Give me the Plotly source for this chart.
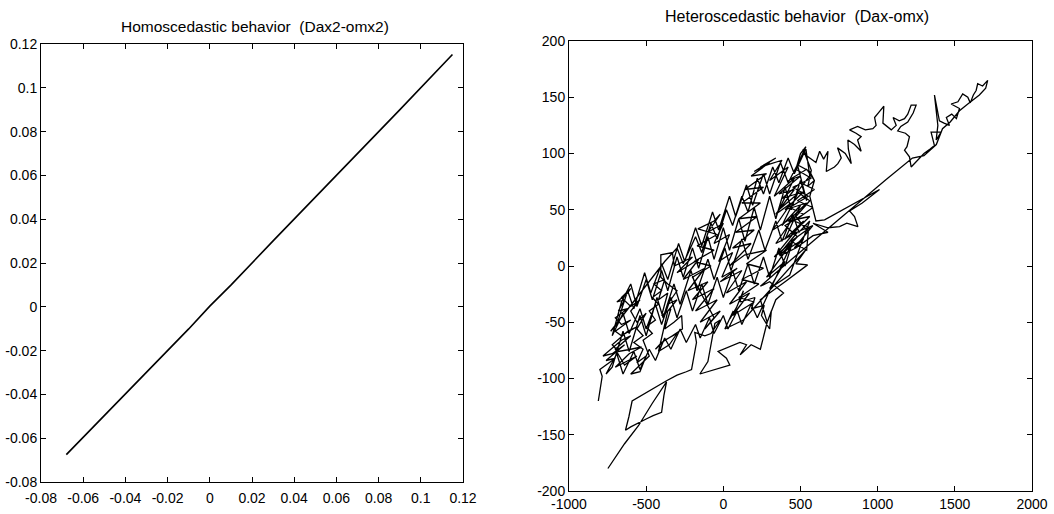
import plotly.graph_objects as go

# ---------------- data ----------------
# Left panel: Dax2 vs omx2 (practically a straight line)
homo_dax2 = [-0.068, -0.05, -0.03, -0.01, 0.0, 0.01, 0.03, 0.05, 0.07, 0.09, 0.115]
homo_omx2 = [-0.0675, -0.0498, -0.0302, -0.0101, 0.0003, 0.0099, 0.0301, 0.0499, 0.0701, 0.0899, 0.1152]

left_ticks = [-0.08, -0.06, -0.04, -0.02, 0, 0.02, 0.04, 0.06, 0.08, 0.1, 0.12]
left_ticktext = ["-0.08", "-0.06", "-0.04", "-0.02", "0", "0.02", "0.04", "0.06", "0.08", "0.1", "0.12"]

right_xticks = [-1000, -500, 0, 500, 1000, 1500, 2000]
right_xticktext = ["-1000", "-500", "0", "500", "1000", "1500", "2000"]
right_yticks = [-200, -150, -100, -50, 0, 50, 100, 150, 200]
right_yticktext = ["-200", "-150", "-100", "-50", "0", "50", "100", "150", "200"]

# Right panel: Dax vs omx path
left_cluster = [
    (-810,-120),(-785,-98),(-800,-92),(-700,-82),(-760,-84),(-640,-70),(-720,-78),(-780,-80),
    (-660,-66),(-600,-62),(-700,-74),(-640,-88),(-560,-80),(-620,-84),(-700,-90),(-610,-78),
    (-530,-72),(-600,-74),(-680,-76),(-720,-70),(-620,-58),(-560,-54),(-660,-62),(-700,-58),
    (-600,-48),(-660,-52),(-700,-46),(-620,-38),(-680,-40),(-640,-30),(-690,-32),(-620,-24),
    (-600,-20),(-660,-28),(-600,-36),(-540,-30),(-600,-40),(-560,-50),(-500,-42),(-560,-56),
    (-520,-62),(-580,-68),(-520,-74),(-560,-86),(-500,-80),(-540,-94),(-600,-96),(-540,-88),
    (-480,-80),(-520,-66),(-460,-60),(-500,-54),(-440,-48),(-480,-40),(-420,-34),(-460,-28),
    (-400,-22),(-450,-16),(-380,-12),(-420,-30),(-360,-24),(-400,-44),(-340,-38),(-380,-56),
    (-320,-50),(-270,-44),(-265,-56),(-330,-62),(-400,-68),(-440,-74),(-380,-66),(-300,-60),
    (-350,-70),(-420,-76),(-360,-40),(-300,-30),(-360,-34),(-300,-22),(-360,-16),(-405,-10),
    (-405,10),(-330,12),(-318,0),
]
upper_band = [
    (-200,8),(-300,-6),(-160,6),(-260,-12),(-120,-2),(-230,-22),(-100,-14),(-200,-30),
    (-60,-20),(-180,-40),(-40,-30),(-150,-50),(-20,-40),(-120,-56),(-60,-46),(-200,-10),
    (-80,0),(-190,4),(-60,14),(-170,18),(-40,28),(-165,33),(-60,40),(-20,46),(-100,30),
    (0,38),(-60,20),(40,28),(-30,4),(60,12),(-10,-10),(90,-2),(-20,-14),(120,-4),(20,-24),
    (150,-14),(40,-34),(170,-24),(60,-44),
]
middle_knot = [
    (200,-32),(100,-28),(230,-16),(120,-12),(260,-2),(150,2),(280,14),(140,10),(40,0),(180,20),
    (60,16),(200,32),(80,30),(220,44),(100,42),(240,56),(120,56),(260,70),(140,68),(280,82),
    (180,80),(300,92),(200,84),(340,96),(240,88),(380,94),(300,76),(420,88),(330,62),(460,78),
    (360,50),(480,64),(380,36),(500,54),(400,24),(520,40),(330,8),(450,22),(280,-10),(400,4),
    (300,-20),(430,-8),
]
sweeps = [
    # right to left, middle of the band
    (560,40),(490,30),(450,46),(380,22),(340,40),(270,14),(230,32),(160,6),(120,24),(50,-4),
    (10,16),(-60,-12),(-100,6),(-170,-22),(-210,-4),(-280,-34),(-320,-16),(-390,-46),(-430,-28),
    (-500,-62),(-540,-44),(-610,-76),(-650,-58),(-720,-90),
    # left to right, lower part of the band
    (-760,-96),(-690,-78),(-650,-96),(-580,-76),(-540,-92),(-480,-74),(-440,-84),(-380,-64),
    (-340,-74),(-280,-56),(-240,-68),(-180,-52),(-150,-64),(-90,-46),(-60,-60),(0,-44),(30,-56),
    (90,-40),(120,-52),(180,-34),(220,-46),(280,-28),
    # right to left, lower-middle
    (450,22),(400,0),(360,16),(300,-10),(260,8),(200,-16),(160,2),(100,-22),(60,-4),(0,-28),
    (-40,-10),(-100,-34),(-140,-16),(-200,-40),(-240,-22),(-300,-46),(-340,-28),(-400,-52),
    (-440,-34),(-500,-56),(-540,-38),(-610,-60),(-650,-42),(-720,-62),
    # left to right, upper-middle
    (-660,-32),(-600,-16),(-560,-36),(-500,-12),(-460,-30),(-400,-4),(-360,-22),(-300,8),
    (-260,-10),(-200,16),(-160,-2),(-100,26),(-60,6),(0,34),(40,14),(100,42),(140,22),(200,52),
    (240,32),(300,62),(340,42),(400,70),(440,50),(500,76),(540,58),
    # right to left, upper edge
    (480,90),(420,74),(370,92),(300,64),(260,82),(190,54),(150,72),(80,44),(40,62),(-30,32),
    (-70,48),(-140,18),(-180,34),(-250,4),(-290,20),(-360,-12),(-400,2),(-470,-24),(-510,-6),
    (-580,-38),(-620,-22),(-690,-52),(-730,-58),
    # left to right, top edge
    (-380,4),(-300,16),(-260,2),(-180,26),(-140,12),(-80,38),(-40,24),(20,50),(60,36),(120,62),
    (160,48),(220,78),(260,64),(320,88),(360,74),(420,96),(460,82),(535,104),
]
dense_cluster = [
    (560,80),(480,66),(560,58),(470,44),(550,30),(540,14),(440,22),(560,34),(460,40),(580,52),
    (480,58),(590,68),(500,74),(380,60),(520,66),(400,50),(540,56),(420,40),(560,44),(440,28),
    (580,36),(460,16),(520,24),(360,10),(480,30),(340,20),(460,44),(320,32),(440,56),(340,46),
    (460,68),(360,64),(500,80),(420,76),(540,86),(590,76),(560,62),(600,40),(656,41),(1012,68),
    (900,56),(818,49),(850,44),(872,35),(800,38),(753,35),(678,34),(581,38),(678,30),(581,27),
    (470,16),(365,9),(480,26),(400,36),(520,46),(430,52),(550,62),(450,70),(570,78),(470,86),
    (500,100),(535,106),(480,90),(560,84),(590,76),
]
upper_tail = [
    (548,71),(570,85),(516,104),(540,98),(600,92),(624,102),(650,95),(678,102),(667,84),(720,88),
    (742,91),(764,96),(740,105),(790,100),(829,91),(810,104),(807,112),(850,108),(893,102),
    (870,112),(893,115),(860,118),(818,121),(870,124),(920,121),(969,122),(990,125),(980,132),
    (1010,137),(1040,142),(1034,127),(1060,124),(1088,121),(1120,125),(1100,132),(1140,129),
    (1174,131),(1195,135),(1217,143),(1249,143),(1230,136),(1195,128),(1150,124),(1130,120),
    (1180,118),(1206,115),(1190,106),(1174,103),(1206,97),(1217,88),(1260,94),(1300,100),
    (1340,104),(1368,107),(1346,119),(1411,119),(1379,112),(1390,125),(1368,152),(1384,140),
    (1400,129),(1430,127),(1465,125),(1445,132),(1480,135),(1510,131),(1530,140),(1476,144),
    (1520,146),(1551,153),(1584,150),(1600,145),(1620,152),(1638,156),(1648,162),(1680,160),
    (1713,165),(1700,158),(1659,152),(1584,144),(1530,138),(1470,128),(1420,122),(1380,108),
    (1300,98),(1225,96),
]
descent = [
    (1055,77),(365,-3),(240,-18),(300,-14),(390,-24),(340,-30),(305,-42),(284,-50),(311,-40),
    (300,-56),(247,-44),(265,-35),(182,-38),(205,-28),(107,-32),(130,-22),(85,-37),(42,-47),
    (64,-40),(10,-56),(130,-48),(538,15),(470,2),(546,1),(400,-14),(240,-30),(284,-50),
    (240,-74),(180,-70),(109,-79),(150,-70),(107,-68),(-34,-76),(20,-82),(42,-88),(-60,-92),
    (-152,-96),(-100,-85),(-55,-51),(-20,-48),(-80,-60),(-120,-62),(-185,-59),(-174,-68),
    (-206,-92),(-240,-94),(-300,-97),(-368,-102),(-480,-111),(-591,-120),(-612,-134),
    (-634,-146),(-600,-143),(-560,-140),(-500,-136),(-455,-133),(-400,-130),(-385,-115),
    (-368,-103),(-460,-122),(-550,-142),(-640,-158),(-748,-180),
]

segments = [left_cluster, upper_band, middle_knot, sweeps, dense_cluster, upper_tail, descent]
dax = [p[0] for seg in segments for p in seg]
omx = [p[1] for seg in segments for p in seg]

# ---------------- figure ----------------
W, H = 1054, 514
FONT = "Liberation Sans, Arial, Helvetica, sans-serif"

fig = go.Figure()
fig.add_trace(go.Scatter(x=homo_dax2, y=homo_omx2, mode="lines",
                         line=dict(color="black", width=1.6),
                         xaxis="x", yaxis="y", showlegend=False, hoverinfo="skip"))
fig.add_trace(go.Scatter(x=dax, y=omx, mode="lines",
                         line=dict(color="black", width=1.3),
                         xaxis="x2", yaxis="y2", showlegend=False, hoverinfo="skip"))

def ax(domain, rng, vals, text, anchor, standoff):
    return dict(domain=domain, range=rng, tickvals=vals, ticktext=text, anchor=anchor,
                showgrid=False, zeroline=False, showline=True, linecolor="black", linewidth=1,
                mirror="ticks", ticks="inside", ticklen=5, tickcolor="black", tickwidth=1,
                ticklabelstandoff=standoff,
                tickfont=dict(family=FONT, size=14, color="black"), automargin=False)

fig.update_layout(
    width=W, height=H, margin=dict(l=0, r=0, t=0, b=0),
    paper_bgcolor="white", plot_bgcolor="white", showlegend=False,
    xaxis=ax([41 / W, 463 / W], [-0.08, 0.12], left_ticks, left_ticktext, "y", 3),
    yaxis=ax([(H - 482) / H, (H - 44) / H], [-0.08, 0.12], left_ticks, left_ticktext, "x", 0),
    xaxis2=ax([569 / W, 1032 / W], [-1000, 2000], right_xticks, right_xticktext, "y2", 0),
    yaxis2=ax([(H - 491) / H, (H - 41) / H], [-200, 200], right_yticks, right_yticktext, "x2", 0),
    annotations=[
        dict(text="Homoscedastic behavior  (Dax2-omx2)", x=255 / W, y=(H - 26) / H,
             xref="paper", yref="paper", showarrow=False, xanchor="center", yanchor="middle",
             font=dict(family=FONT, size=15.5, color="black")),
        dict(text="Heteroscedastic behavior  (Dax-omx)", x=797 / W, y=(H - 16) / H,
             xref="paper", yref="paper", showarrow=False, xanchor="center", yanchor="middle",
             font=dict(family=FONT, size=16, color="black")),
    ],
)

fig.write_html("out.html")
